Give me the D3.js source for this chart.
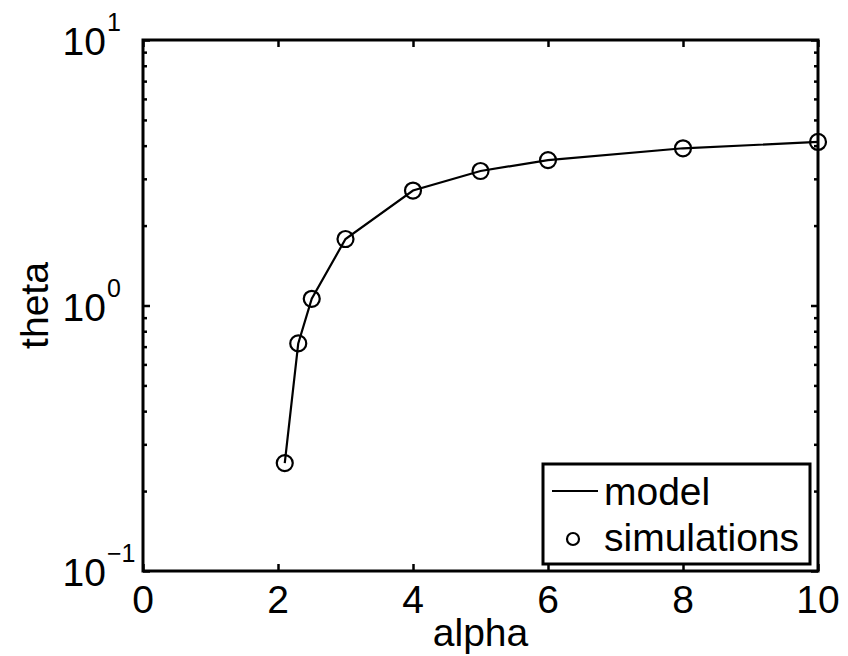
<!DOCTYPE html>
<html>
<head>
<meta charset="utf-8">
<script src="https://cdn.jsdelivr.net/npm/d3@7"></script>
<style>
  body { margin: 0; background: #fff; }
  svg text { font-family: "Liberation Sans", Arial, sans-serif; fill: #000; }
</style>
</head>
<body>
<div id="chart"></div>
<script>
// values
var alphaVals = [2.1, 2.3, 2.5, 3, 4, 5, 6, 8, 10];
var modelTheta = [0.255, 0.72, 1.06, 1.78, 2.71, 3.21, 3.53, 3.91, 4.13];
var simTheta = [0.255, 0.72, 1.06, 1.78, 2.71, 3.21, 3.53, 3.91, 4.13];
var xTicks = [0, 2, 4, 6, 8, 10];
var yMajor = [0.1, 1, 10];
var yExp = ["\u22121", "0", "1"];
var legendNames = ["model", "simulations"];

var W = 848, H = 656;
var padL = 143, padR = 818, padT = 40, padB = 571;
var fs = 39;

var svg = d3.select("#chart").append("svg")
    .attr("width", W)
    .attr("height", H);

var x = d3.scaleLinear().domain([0, 10]).range([padL, padR]);
var y = d3.scaleLog().domain([0.1, 10]).range([padB, padT]);

//minor ticks for log axis
var yMinor = [];
[0.1, 1].forEach(function (d) {
    for (var k = 2; k <= 9; k++) yMinor.push(d * k);
});

function tickLines(g) {
    g.select(".domain").remove();
    g.selectAll("line").attr("stroke", "#000").attr("stroke-width", 2.5);
}

//x ticks (bottom and top), pointing inward
svg.append("g")
    .attr("transform", "translate(0," + padB + ")")
    .call(d3.axisBottom(x).tickValues(xTicks).tickSize(-7).tickFormat(""))
    .call(tickLines);
svg.append("g")
    .attr("transform", "translate(0," + padT + ")")
    .call(d3.axisTop(x).tickValues(xTicks).tickSize(-7).tickFormat(""))
    .call(tickLines);

//y ticks, major + minor, both sides
svg.append("g")
    .attr("transform", "translate(" + padL + ",0)")
    .call(d3.axisLeft(y).tickValues(yMajor).tickSize(-7).tickFormat(""))
    .call(tickLines);
svg.append("g")
    .attr("transform", "translate(" + padL + ",0)")
    .call(d3.axisLeft(y).tickValues(yMinor).tickSize(-4).tickFormat(""))
    .call(tickLines);
svg.append("g")
    .attr("transform", "translate(" + padR + ",0)")
    .call(d3.axisRight(y).tickValues(yMajor).tickSize(-7).tickFormat(""))
    .call(tickLines);
svg.append("g")
    .attr("transform", "translate(" + padR + ",0)")
    .call(d3.axisRight(y).tickValues(yMinor).tickSize(-4).tickFormat(""))
    .call(tickLines);

//box
svg.append("rect")
    .attr("x", padL)
    .attr("y", padT)
    .attr("width", padR - padL)
    .attr("height", padB - padT)
    .attr("fill", "none")
    .attr("stroke", "#000")
    .attr("stroke-width", 3);

//x tick labels
svg.append("g").selectAll("text")
    .data(xTicks)
    .enter().append("text")
    .attr("x", function (d) { return x(d); })
    .attr("y", padB + 42)
    .attr("text-anchor", "middle")
    .attr("font-size", fs)
    .text(function (d) { return d; });

//y tick labels as 10^n
var yl = svg.append("g");
yMajor.forEach(function (d, i) {
    yl.append("text")
        .attr("x", 106)
        .attr("y", y(d) + 15)
        .attr("text-anchor", "end")
        .attr("font-size", fs)
        .text("10");
    yl.append("text")
        .attr("x", 107)
        .attr("y", y(d) - 9)
        .attr("font-size", 25)
        .text(yExp[i]);
});

//axis titles
svg.append("text")
    .attr("x", x(5))
    .attr("y", 646)
    .attr("text-anchor", "middle")
    .attr("font-size", fs)
    .text("alpha");
svg.append("text")
    .attr("transform", "translate(48," + y(1) + ") rotate(-90)")
    .attr("text-anchor", "middle")
    .attr("font-size", fs)
    .text("theta");

//model curve
var line = d3.line()
    .x(function (d, i) { return x(alphaVals[i]); })
    .y(function (d) { return y(d); });

svg.append("path")
    .datum(modelTheta)
    .attr("d", line)
    .attr("fill", "none")
    .attr("stroke", "#000")
    .attr("stroke-width", 2.2);

//simulation markers
svg.append("g").selectAll("circle")
    .data(simTheta)
    .enter().append("circle")
    .attr("cx", function (d, i) { return x(alphaVals[i]); })
    .attr("cy", function (d) { return y(d); })
    .attr("r", 8)
    .attr("fill", "none")
    .attr("stroke", "#000")
    .attr("stroke-width", 2.2);

//legend
var lg = svg.append("g");
lg.append("rect")
    .attr("x", 543)
    .attr("y", 464)
    .attr("width", 267)
    .attr("height", 100)
    .attr("fill", "#fff")
    .attr("stroke", "#000")
    .attr("stroke-width", 3);
lg.append("line")
    .attr("x1", 552).attr("x2", 598)
    .attr("y1", 491).attr("y2", 491)
    .attr("stroke", "#000")
    .attr("stroke-width", 2.2);
lg.append("circle")
    .attr("cx", 573).attr("cy", 539)
    .attr("r", 6)
    .attr("fill", "none")
    .attr("stroke", "#000")
    .attr("stroke-width", 2.2);
lg.selectAll("text")
    .data(legendNames)
    .enter().append("text")
    .attr("x", 604)
    .attr("y", function (d, i) { return 505 + i * 46; })
    .attr("font-size", fs)
    .text(function (d) { return d; });
</script>
</body>
</html>
